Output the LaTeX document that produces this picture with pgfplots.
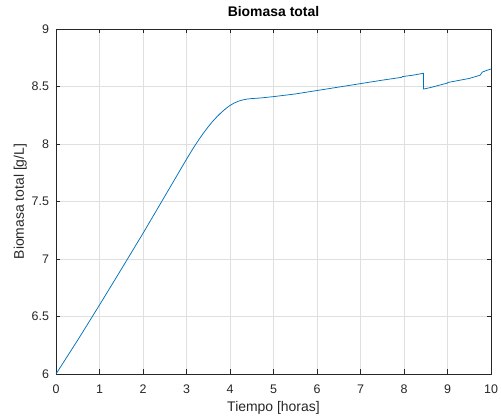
\documentclass[border=0pt]{standalone}
\usepackage{pgfplots}
\pgfplotsset{compat=1.18}
\usepackage{fontspec}
\setmainfont{Liberation Sans}
\definecolor{mblue}{RGB}{0,114,189}
\definecolor{mgrid}{RGB}{223,223,223}
\definecolor{maxis}{RGB}{38,38,38}
\begin{document}
\begin{tikzpicture}
\begin{axis}[
  scale only axis, width=435bp, height=345bp,
  xmin=0, xmax=10, ymin=6, ymax=9,
  xtick={0,1,2,3,4,5,6,7,8,9,10},
  ytick={6,6.5,7,7.5,8,8.5,9},
  yticklabels={6,6.5,7,7.5,8,8.5,9},
  grid=major,
  major grid style={mgrid, line width=0.6bp},
  axis line style={maxis, line width=0.6bp},
  tick style={maxis, line width=0.6bp},
  tick align=inside, major tick length=4.5bp,
  /pgf/number format/assume math mode=true,
  ticklabel style={font=\fontsize{12.5}{14}\selectfont, text=maxis},
  xticklabel style={yshift=-7.5bp},
  yticklabel style={xshift=-3.5bp},
  xlabel={Tiempo [horas]},
  ylabel={Biomasa total [g/L]},
  xlabel style={font=\fontsize{14}{16}\selectfont, text=maxis, at={(axis description cs:0.5,0)}, anchor=base, yshift=-37bp},
  ylabel style={font=\fontsize{14}{16}\selectfont, text=maxis, at={(axis description cs:-0.0736,0.5)}, anchor=base},
  title={Biomasa total},
  title style={font=\bfseries\fontsize{14}{16}\selectfont, at={(axis description cs:0.5,1)}, anchor=base, yshift=6.5bp},
]
\addplot[mblue, line width=0.75bp] coordinates {
(0,6.000) (0.5,6.295) (1,6.600) (1.5,6.910) (2,7.223) (2.5,7.545)
(2.8,7.738) (2.9,7.803) (3.0,7.867) (3.1,7.930) (3.2,7.990) (3.3,8.047)
(3.4,8.100) (3.5,8.150) (3.6,8.196) (3.7,8.237) (3.8,8.274) (3.9,8.307)
(4.0,8.335) (4.1,8.357) (4.2,8.373) (4.3,8.384) (4.4,8.391) (4.5,8.395)
(4.7,8.400) (5.0,8.412)
(5.5,8.435) (6.0,8.465) (6.5,8.495) (7.0,8.525) (7.5,8.555) (7.95,8.580)
(7.96,8.586) (8.2,8.598) (8.45,8.615) (8.45,8.478) (8.6,8.490) (9.0,8.530)
(9.01,8.535) (9.5,8.570) (9.75,8.598) (9.8,8.625) (9.9,8.640) (10,8.652)
};
\end{axis}
\pgfresetboundingbox
\path ([shift={(-56bp,-42bp)}]current axis.south west) rectangle ([shift={(10bp,29bp)}]current axis.north east);
\end{tikzpicture}
\end{document}
